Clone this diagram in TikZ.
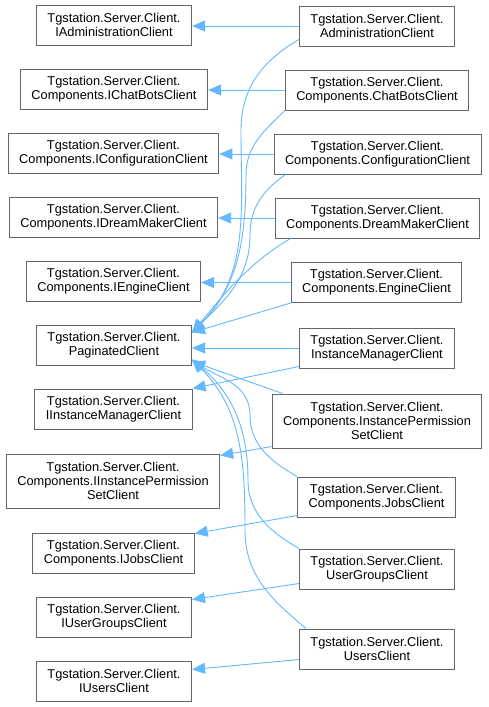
\documentclass[tikz,border=0pt]{standalone}
\usepackage{fontspec}
\setmainfont{Liberation Sans}
\usepackage{xcolor}
\usepackage{tikz}
\usetikzlibrary{arrows.meta, calc}
\definecolor{edgeblue}{RGB}{99,184,255}
\definecolor{boxgray}{RGB}{102,102,102}

\begin{document}
\begin{tikzpicture}[
  x=1pt, y=-1pt,
  cls/.style={rectangle, draw=boxgray, fill=white, line width=1pt,
              minimum height=40pt, inner xsep=11pt, inner ysep=3pt,
              font=\fontsize{12.8}{14}\selectfont, align=center},
  tallcls/.style={cls, minimum height=54pt},
  arr/.style={-{Triangle[length=13pt, width=11pt]}, edgeblue, line width=0.9pt},
]
\useasboundingbox (0,0) rectangle (489,707);

% Interfaces
\node[cls] (iadmin) at (114,25) {Tgstation.Server.Client.\\IAdministrationClient};
\node[cls] (ichat) at (114,89.5) {Tgstation.Server.Client.\\Components.IChatBotsClient};
\node[cls] (iconfig) at (113.5,153.5) {Tgstation.Server.Client.\\Components.IConfigurationClient};
\node[cls] (idream) at (113.5,217) {Tgstation.Server.Client.\\Components.IDreamMakerClient};
\node[cls] (iengine) at (113.5,281.5) {Tgstation.Server.Client.\\Components.IEngineClient};
\node[cls] (paged) at (114,345) {Tgstation.Server.Client.\\PaginatedClient};
\node[cls] (iinst) at (113.5,409) {Tgstation.Server.Client.\\IInstanceManagerClient};
\node[tallcls] (iperm) at (113,481) {Tgstation.Server.Client.\\Components.IInstancePermission\\SetClient};
\node[cls] (ijobs) at (113.5,553) {Tgstation.Server.Client.\\Components.IJobsClient};
\node[cls] (igroups) at (114,617) {Tgstation.Server.Client.\\IUserGroupsClient};
\node[cls] (iusers) at (114,681) {Tgstation.Server.Client.\\IUsersClient};

% Clients
\node[cls] (admin) at (377,26) {Tgstation.Server.Client.\\AdministrationClient};
\node[cls] (chat) at (377,90) {Tgstation.Server.Client.\\Components.ChatBotsClient};
\node[cls] (config) at (377.5,154) {Tgstation.Server.Client.\\Components.ConfigurationClient};
\node[cls] (dream) at (377.5,218) {Tgstation.Server.Client.\\Components.DreamMakerClient};
\node[cls] (engine) at (376.5,282.5) {Tgstation.Server.Client.\\Components.EngineClient};
\node[cls] (inst) at (377,348) {Tgstation.Server.Client.\\InstanceManagerClient};
\node[tallcls] (perm) at (377,421) {Tgstation.Server.Client.\\Components.InstancePermission\\SetClient};
\node[cls] (jobs) at (376.5,497) {Tgstation.Server.Client.\\Components.JobsClient};
\node[cls] (groups) at (377,569) {Tgstation.Server.Client.\\UserGroupsClient};
\node[cls] (users) at (377,649) {Tgstation.Server.Client.\\UsersClient};

% Arrow ends at PaginatedClient
\coordinate (tipA) at ([yshift=-8pt]paged.north east);
\coordinate (tipB) at ([yshift=6pt]paged.south east);

% Interface flows
\draw[arr] (admin.west) -- (admin.west -| iadmin.east);
\draw[arr] (chat.west) -- (chat.west -| ichat.east);
\draw[arr] (config.west) -- (config.west -| iconfig.east);
\draw[arr] (dream.west) -- (dream.west -| idream.east);
\draw[arr] (engine.west) -- (engine.west -| iengine.east);
\draw[arr] ([yshift=2pt]inst.south west) -- (iinst.north east);
\draw[arr] ([yshift=2pt]perm.south west) -- ([yshift=-2pt]iperm.north east);
\draw[arr] ([yshift=2pt]jobs.south west) -- ([yshift=-1pt]ijobs.north east);
\draw[arr] ([yshift=6pt]groups.south west) -- ([yshift=-3pt]igroups.north east);
\draw[arr] ([yshift=10pt]users.south west) -- ([yshift=-9pt]iusers.north east);

% Flows into PaginatedClient
\draw[arr] ([yshift=7pt]admin.south west) to[out=210, in=90] (241,130) to[out=-90, in=45] (tipA);
\draw[arr] (chat.south west) to[out=225, in=90] (246,175) to[out=-90, in=45] (tipA);
\draw[arr] ([xshift=12pt]config.south west) to[out=215, in=90] (250,235) to[out=-90, in=45] (tipA);
\draw[arr] ([xshift=16pt]dream.south west) to[out=210, in=50, looseness=0.9] (tipA);
\draw[arr] (engine.south west) -- (tipA);
\draw[arr] (inst.west) -- (inst.west -| paged.east);
\draw[arr] ([xshift=11pt]perm.north west) -- ([yshift=4pt]paged.south east);
\draw[arr] (jobs.north west) to[out=150, in=-90] (250,415) to[out=90, in=-35] (tipB);
\draw[arr] (groups.north west) to[out=150, in=-90] (248,480) to[out=90, in=-40] (tipB);
\draw[arr] ([xshift=7pt]users.north west) to[out=140, in=-90] (245,530) to[out=90, in=-45] (tipB);

\end{tikzpicture}
\end{document}
